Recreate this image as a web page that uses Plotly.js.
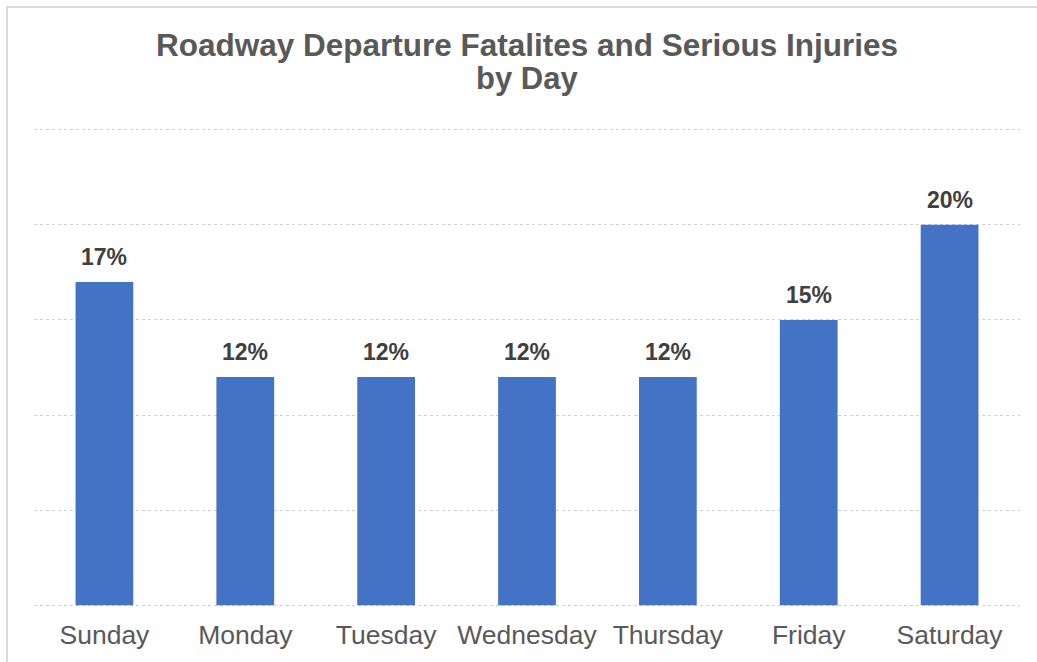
<!DOCTYPE html>
<html>
<head>
<meta charset="utf-8">
<script src="https://cdn.plot.ly/plotly-3.0.1.min.js"></script>
<style>
  body { margin: 0; background: #fff; overflow: hidden; }
  #frame { position: absolute; left: 6px; top: 6px; width: 1100px; height: 720px;
           border-left: 2px solid #dcdcdc; border-top: 2px solid #dcdcdc; }
  #chart { position: absolute; left: 0; top: 0; width: 1037px; height: 662px; }
</style>
</head>
<body>
<div id="frame"></div>
<div id="chart"></div>
<script>
const days = ['Sunday', 'Monday', 'Tuesday', 'Wednesday', 'Thursday', 'Friday', 'Saturday'];
const shares = [0.17, 0.12, 0.12, 0.12, 0.12, 0.15, 0.20];
const labels = ['17%', '12%', '12%', '12%', '12%', '15%', '20%'];

const font = 'Liberation Sans, Arial, sans-serif';

const trace = {
    x: days,
    y: shares,
    type: 'bar',
    marker: { color: '#4472c4' },
    hoverinfo: 'skip'
};

// data labels sit a bit above each bar, like the Excel original
const annotations = days.map((d, i) => ({
    x: d,
    y: shares[i],
    text: '<b>' + labels[i] + '</b>',
    showarrow: false,
    yanchor: 'bottom',
    yshift: 10,
    font: { family: font, size: 23, color: '#404040' }
}));

// second title line, placed separately to keep Excel's tight line spacing
annotations.push({
    xref: 'paper', yref: 'paper',
    x: 0.5, y: 1.094,
    yanchor: 'middle',
    text: '<b>by Day</b>',
    showarrow: false,
    font: { family: font, size: 31, color: '#595959' }
});

const layout = {
    width: 1037,
    height: 662,
    // range padded a little so the 0% and 25% gridlines are not dropped at the edges
    margin: { l: 34, r: 17, t: 124, b: 51 },
    paper_bgcolor: 'rgba(0,0,0,0)',
    plot_bgcolor: 'rgba(0,0,0,0)',
    bargap: 0.59,
    showlegend: false,
    title: {
        text: '<b>Roadway Departure Fatalites and Serious Injuries</b>',
        x: 0.5,
        xref: 'paper',
        y: 1 - 45 / 662,
        yanchor: 'middle',
        font: { family: font, size: 31.5, color: '#595959' }
    },
    xaxis: {
        showline: false,
        ticks: '',
        ticklabelstandoff: 5,
        tickfont: { family: font, size: 26.5, color: '#595959' },
        fixedrange: true
    },
    yaxis: {
        range: [-0.003, 0.253],
        tickvals: [0, 0.05, 0.1, 0.15, 0.2, 0.25],
        showticklabels: false,
        zeroline: false,
        showgrid: true,
        gridcolor: '#cfcfcf',
        griddash: 'dot',
        gridwidth: 1,
        fixedrange: true
    },
    annotations: annotations
};

Plotly.newPlot('chart', [trace], layout, { displayModeBar: false, staticPlot: true });
</script>
</body>
</html>
